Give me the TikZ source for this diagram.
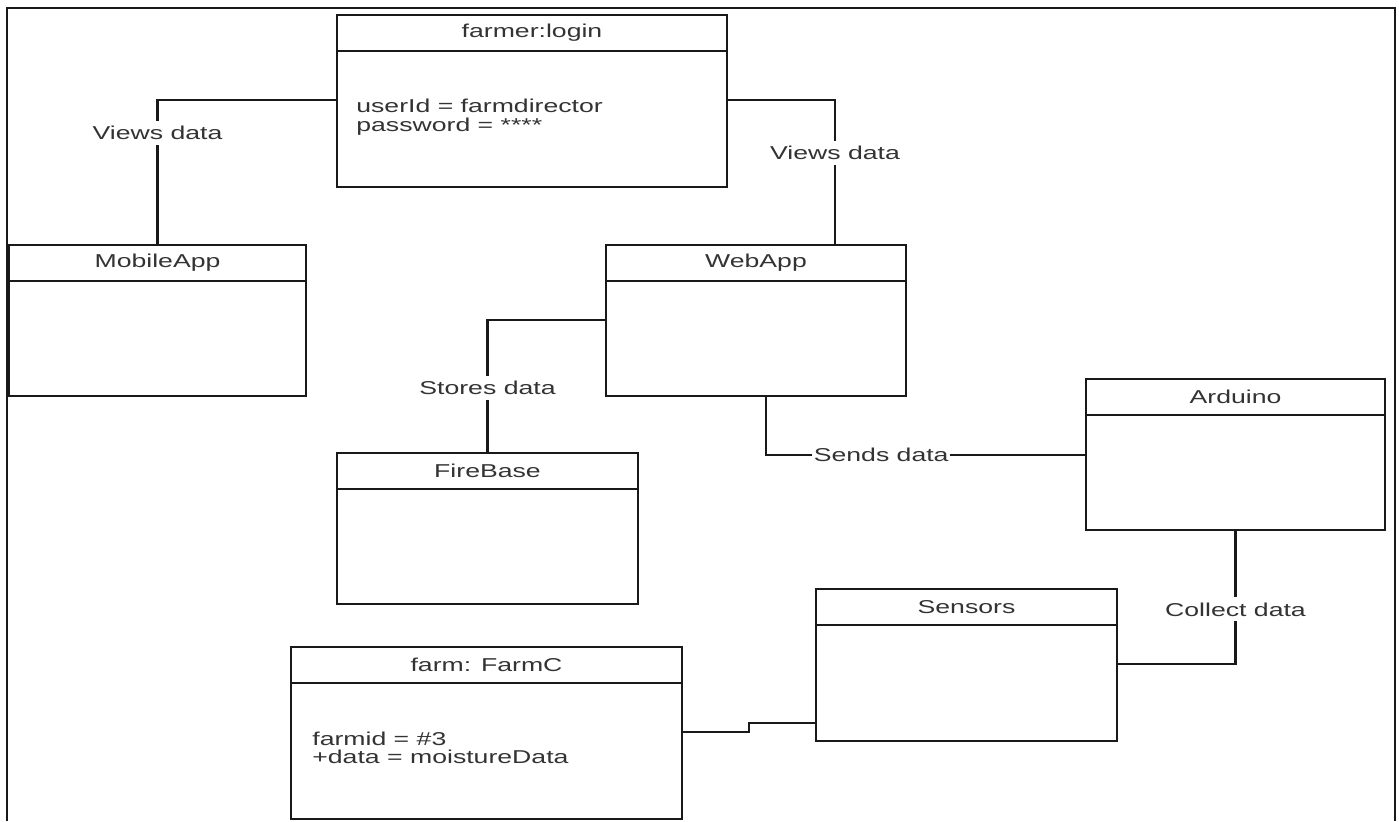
\documentclass[tikz,border=0pt]{standalone}
\usepackage{fontspec}
\setmainfont[FakeStretch=1.43]{Liberation Sans}
\usepackage{tikz}

\begin{document}
\begin{tikzpicture}[font=\fontsize{10.6}{10.5}\selectfont, text=black!80,
  objhead/.style={draw=black!90, line width=1.4pt, anchor=north west, minimum height=0.72cm, inner sep=0pt, outer sep=0pt},
  objbody/.style={draw=black!90, line width=1.4pt, anchor=north, minimum height=2.3cm, inner sep=0pt, outer sep=0pt},
  attr/.style={anchor=west, align=left, inner sep=0pt},
  conn/.style={draw=black!90, line width=1.3pt},
  lbl/.style={fill=white, inner xsep=1pt, inner ysep=3pt}]
\useasboundingbox (0,0) rectangle (27.98,-16.42);
% outer frame
\draw[black!90, line width=1.3pt] (0.14,-16.42) -- (0.14,-0.16) -- (27.9,-0.16) -- (27.9,-16.42);

% objects
\node[objhead, minimum width=7.8cm] (loginH) at (6.74,-0.30) {farmer:login};
\node[objbody, minimum width=7.8cm, minimum height=2.72cm] (loginB) at (loginH.south) {};
\node[attr] (loginA) at ([xshift=0.38cm,yshift=0.04cm]loginB.west) {userId = farmdirector\\password = ****};

\node[objhead, minimum width=5.94cm] (mobileH) at (0.18,-4.90) {MobileApp};
\node[objbody, minimum width=5.94cm] (mobileB) at (mobileH.south) {};

\node[objhead, minimum width=6cm] (webH) at (12.12,-4.90) {WebApp};
\node[objbody, minimum width=6cm] (webB) at (webH.south) {};

\node[objhead, minimum width=5.98cm] (ardH) at (21.72,-7.58) {Arduino};
\node[objbody, minimum width=5.98cm] (ardB) at (ardH.south) {};

\node[objhead, minimum width=6.02cm] (fireH) at (6.74,-9.06) {FireBase};
\node[objbody, minimum width=6.02cm] (fireB) at (fireH.south) {};

\node[objhead, minimum width=6.02cm] (sensH) at (16.32,-11.78) {Sensors};
\node[objbody, minimum width=6.02cm, minimum height=2.32cm] (sensB) at (sensH.south) {};

\node[objhead, minimum width=7.82cm] (farmH) at (5.82,-12.94) {farm: FarmC};
\node[objbody, minimum width=7.82cm, minimum height=2.72cm] (farmB) at (farmH.south) {};
\node[attr] (farmA) at ([xshift=0.42cm,yshift=0.06cm]farmB.west) {farmid = \#3\\+data = moistureData};

% links
\draw[conn] ([yshift=0.38cm]loginB.west) -| node[lbl, pos=0.614] {Views data} (mobileH.north);
\draw[conn] ([yshift=0.38cm]loginB.east) -| node[lbl, pos=0.683] {Views data} ([xshift=1.58cm]webH.north);
\draw[conn] ([yshift=0.37cm]webB.west) -| node[lbl, pos=0.756] {Stores data} (fireH.north);
\draw[conn] ([xshift=0.2cm]webB.south) |- node[lbl, pos=0.68] {Sends data} ([yshift=0.35cm]ardB.west);
\draw[conn] (ardB.south) |- node[lbl, pos=0.296] {Collect data} ([yshift=0.38cm]sensB.east);
\draw[conn] ([yshift=0.38cm]farmB.east) -- ++(1.34,0) |- ([yshift=-0.8cm]sensB.west);
\end{tikzpicture}
\end{document}
